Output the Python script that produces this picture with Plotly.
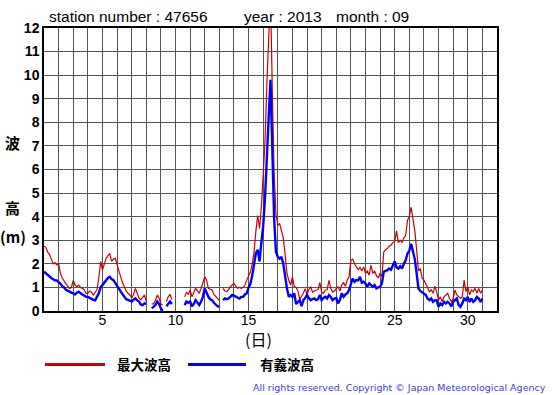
import numpy as np
import plotly.graph_objects as go

# ---------------- data (3-hourly, day 1 00h .. day 31 00h) ----------------
max_wave = [
    2.75, 2.7, 2.5, 2.4, 2.2, 2.0, 2.05, 1.95,      # 1
    2.0, 1.6, 1.4, 1.25, 1.15, 1.05, 0.95, 1.0,     # 2
    1.3, 1.1, 1.03, 1.1, 1.0, 0.96, 0.9, 0.75,      # 3
    0.75, 0.85, 0.8, 0.68, 0.8, 0.9, 1.4, 2.1,      # 4
    1.74, 2.0, 2.23, 2.35, 2.44, 2.1, 2.2, 2.23,    # 5
    2.0, 1.7, 1.45, 1.2, 1.0, 0.85, 0.75, 0.68,     # 6
    0.55, 0.7, 0.96, 0.7, 0.55, 0.47, 0.6, 0.68,    # 7
    0.4, None, None, 0.3, 0.3, 0.45, 0.68, 0.55,    # 8
    0.3, 0.25, None, 0.4, 0.6, 0.7, 0.5, None,      # 9
    None, None, None, None, None, 0.6, 0.8, 0.7,    # 10
    0.89, 0.6, 0.8, 0.96, 0.85, 0.75, 0.95, 1.17,   # 11
    1.45, 1.31, 0.96, 0.92, 0.89, 0.7, 0.6, 0.5,    # 12
    0.45, None, 0.96, 0.85, 0.82, 0.9, 1.03, 1.1,   # 13
    1.17, 1.05, 0.96, 1.0, 0.96, 1.0, 1.1, 1.31,    # 14
    1.45, 1.65, 2.0, 2.5, 3.4, 4.05, 3.5, 4.4,      # 15
    5.8, 7.2, 9.6, 12.5, 13.5, 9.3, 5.8, 4.1,       # 16
    3.65, 3.7, 3.4, 3.1, 2.4, 1.6, 1.3, 1.1,        # 17
    1.45, 1.05, 1.0, 0.85, 0.5, 0.6, 0.75, 0.95,    # 18
    0.7, 0.9, 1.03, 0.8, 0.85, 0.89, 0.9, 1.2,      # 19
    0.8, 0.75, 0.89, 0.9, 1.3, 0.95, 0.8, 0.85,     # 20
    0.95, 1.03, 0.85, 1.1, 1.2, 1.05, 1.3, 1.45,    # 21
    2.15, 2.2, 2.0, 1.9, 1.75, 1.85, 1.7, 1.87,     # 22
    1.6, 1.7, 1.52, 1.94, 1.6, 1.7, 1.5, 1.4,       # 23
    1.6, 1.45, 2.5, 2.6, 2.65, 2.75, 2.8, 2.9,      # 24
    2.95, 3.4, 2.9, 3.0, 2.9, 3.1, 3.2, 3.85,       # 25
    4.0, 4.4, 3.9, 3.4, 2.6, 1.7, 1.8, 1.4,         # 26
    1.31, 1.17, 1.0, 0.82, 0.9, 0.75, 1.05, 0.8,    # 27
    0.46, 0.6, 0.4, 0.6, 0.68, 0.75, 0.53, 0.4,     # 28
    0.53, 0.89, 0.68, 0.6, 0.53, 0.6, 1.31, 0.82,   # 29
    1.03, 0.68, 0.89, 0.82, 0.96, 0.75, 0.96, 0.75, # 30
    0.89,                                           # 31
]

sig_wave = [
    1.67, 1.6, 1.5, 1.45, 1.4, 1.35, 1.3, 1.3,      # 1
    1.24, 1.15, 1.05, 1.0, 0.9, 0.85, 0.8, 0.78,    # 2
    0.75, 0.7, 0.78, 0.82, 0.75, 0.7, 0.65, 0.6,    # 3
    0.6, 0.55, 0.5, 0.47, 0.45, 0.6, 0.75, 1.0,     # 4
    1.1, 1.2, 1.31, 1.4, 1.45, 1.35, 1.31, 1.2,     # 5
    1.1, 0.95, 0.82, 0.7, 0.6, 0.5, 0.47, 0.42,     # 6
    0.4, 0.48, 0.54, 0.45, 0.4, 0.28, 0.25, 0.32,   # 7
    0.3, None, None, 0.11, 0.2, 0.25, 0.4, 0.3,     # 8
    0.11, 0.0, None, 0.2, 0.3, 0.4, 0.3, None,      # 9
    None, None, None, None, None, 0.25, 0.4, 0.35,  # 10
    0.4, 0.2, 0.3, 0.46, 0.35, 0.25, 0.4, 0.6,      # 11
    0.96, 0.75, 0.6, 0.5, 0.46, 0.35, 0.25, 0.2,    # 12
    0.18, None, 0.46, 0.53, 0.5, 0.53, 0.6, 0.68,   # 13
    0.65, 0.6, 0.55, 0.53, 0.6, 0.6, 0.7, 0.75,     # 14
    1.0, 1.15, 1.5, 1.9, 2.45, 2.6, 2.1, 2.9,       # 15
    3.6, 4.8, 6.8, 8.2, 9.8, 6.3, 3.9, 2.5,         # 16
    2.3, 2.22, 2.3, 2.0, 1.45, 0.96, 0.6, 0.68,     # 17
    0.6, 0.75, 0.3, 0.4, 0.46, 0.2, 0.46, 0.55,     # 18
    0.68, 0.55, 0.46, 0.5, 0.53, 0.46, 0.5, 0.68,   # 19
    0.46, 0.55, 0.6, 0.53, 0.68, 0.6, 0.46, 0.53,   # 20
    0.55, 0.32, 0.46, 0.75, 0.6, 0.7, 0.75, 0.89,   # 21
    1.17, 1.38, 1.24, 1.31, 1.3, 1.45, 1.2, 1.24,   # 22
    1.17, 1.03, 1.17, 1.1, 1.03, 1.1, 0.96, 1.0,    # 23
    1.03, 1.17, 1.66, 1.7, 1.73, 1.8, 1.75, 1.94,   # 24
    2.1, 1.85, 1.8, 1.9, 1.8, 2.0, 2.15, 2.44,      # 25
    2.55, 2.85, 2.5, 2.2, 1.6, 0.95, 0.85, 0.8,     # 26
    0.75, 0.68, 0.53, 0.46, 0.53, 0.39, 0.46, 0.45, # 27
    0.18, 0.32, 0.25, 0.39, 0.32, 0.39, 0.32, 0.2,  # 28
    0.39, 0.46, 0.53, 0.25, 0.18, 0.32, 0.53, 0.46, # 29
    0.6, 0.39, 0.53, 0.39, 0.46, 0.6, 0.53, 0.39,   # 30
    0.53,                                           # 31
]

hours = np.arange(len(max_wave)) * 3
days = 1 + hours / 24.0

x_tick_vals = [5, 10, 15, 20, 25, 30]
y_tick_vals = list(range(0, 13))

title_parts = ["station number : 47656", "year : 2013", "month : 09"]
legend_names = ["最大波高", "有義波高"]
copyright_text = "All rights reserved. Copyright © Japan Meteorological Agency"

# ---------------- layout helpers (pixel -> paper) ----------------
W, H = 555, 395
L, R, T, B = 44, 497, 28, 311


def px(x):
    return (x - L) / (R - L)


def py(y):
    return (B - y) / (B - T)


RED = "#cc0000"
BLUE = "#0000ff"
SANS = "Liberation Sans, Arial, sans-serif"
CJK = "Noto Sans CJK JP, sans-serif"

fig = go.Figure()
fig.add_trace(go.Scatter(x=days, y=max_wave, mode="lines",
                         line=dict(color=RED, width=1.2), name=legend_names[0],
                         showlegend=False))
fig.add_trace(go.Scatter(x=days, y=sig_wave, mode="lines",
                         line=dict(color=BLUE, width=2.4), name=legend_names[1],
                         showlegend=False))

grid = "#555555"
fig.update_layout(
    width=W, height=H,
    margin=dict(l=L, r=W - R, t=T, b=H - B, pad=0),
    paper_bgcolor="white", plot_bgcolor="white",
    showlegend=False,
    xaxis=dict(range=[1, 32], tickvals=x_tick_vals, showgrid=True,
               gridcolor=grid, gridwidth=1, zeroline=False,
               showline=True, linecolor="black", linewidth=1.5, mirror=True,
               ticks="", ticklabelstandoff=-5,
               tickfont=dict(family=SANS, size=14, color="black"),
               minor=dict(dtick=1, tick0=1, showgrid=True, gridcolor=grid, gridwidth=1)),
    yaxis=dict(range=[0, 12], tickvals=y_tick_vals, showgrid=True,
               gridcolor=grid, gridwidth=1, zeroline=False,
               showline=True, linecolor="black", linewidth=1.5, mirror=True,
               ticks="", ticklabelstandoff=0,
               tickfont=dict(family=SANS, size=14, color="black", weight="bold")),
)


def note(text, x, y, font, xanchor="center"):
    return dict(text=text, x=px(x), y=py(y), xref="paper", yref="paper",
                xanchor=xanchor, yanchor="middle", showarrow=False, font=font)


ann = []
for txt, xpix in zip(title_parts, [47, 242, 334]):
    ann.append(note(txt, xpix, 17, dict(family=SANS, size=15.5, color="black"), "left"))
ann.append(note("波", 12.5, 142.5, dict(family=CJK, size=15, color="black", weight="bold")))
ann.append(note("高", 12.5, 207.5, dict(family=CJK, size=15, color="black", weight="bold")))
ann.append(note("(m)", 13, 236.5, dict(family=CJK, size=15, color="black", weight="bold")))
ann.append(note("(日)", 258.5, 338.5, dict(family=CJK, size=16, color="black")))
for txt, xpix in zip(legend_names, [115, 258]):
    ann.append(note(txt, xpix, 364, dict(family=CJK, size=13.5, color="black", weight="bold"), "left"))
ann.append(note(copyright_text, 548, 387, dict(family="DejaVu Sans", size=9.5, color="#4040e0"), "right"))
fig.update_layout(annotations=ann)

shapes = []
for color, (x0, x1) in zip([RED, BLUE], [(45, 105), (188, 246)]):
    shapes.append(dict(type="line", xref="paper", yref="paper",
                       x0=px(x0), x1=px(x1), y0=py(364.5), y1=py(364.5),
                       line=dict(color=color, width=3)))
fig.update_layout(shapes=shapes)

fig.write_html("out.html", config={"displayModeBar": False},
               post_script="document.body.style.margin='0';document.body.style.overflow='hidden';")
